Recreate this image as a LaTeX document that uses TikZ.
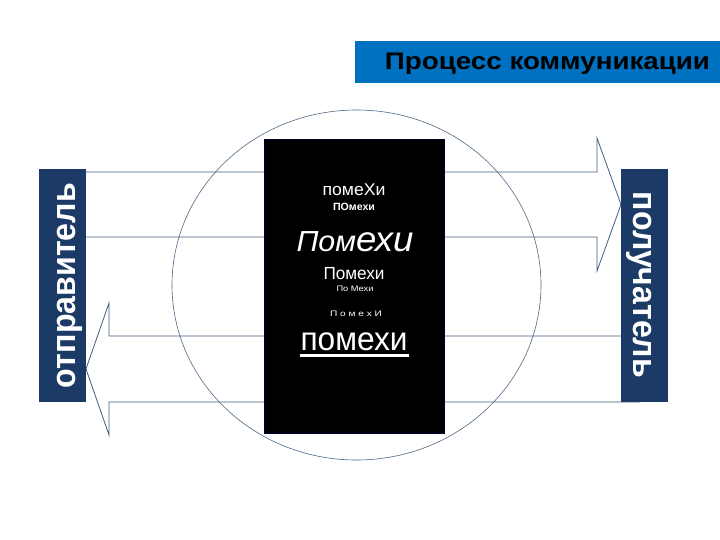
\documentclass[tikz,border=0pt]{standalone}
\usepackage{fontspec}
\setmainfont{Liberation Sans}
\usepackage{graphicx}
\definecolor{navy}{HTML}{1B3A66}
\definecolor{titleblue}{HTML}{0070C0}
\definecolor{edgeblue}{HTML}{3F5F80}
\definecolor{ringcol}{HTML}{4F6A88}
\tikzset{
  arrowshape/.style={draw=edgeblue, fill=white, line width=0.8pt, line join=miter},
  ring/.style={draw=ringcol, line width=0.6pt},
  partybox/.style={fill=navy, draw=none, minimum width=47pt, minimum height=233pt, inner sep=0pt},
  partylabel/.style={text=white, font=\bfseries\fontsize{34}{34}\selectfont, inner sep=0pt, anchor=base},
  noisebox/.style={fill=black, draw=black!80!blue, minimum width=180pt, minimum height=294pt, inner sep=0pt},
  noisetext/.style={text=white, anchor=base, inner sep=0pt},
  titlebar/.style={fill=titleblue, draw=none, minimum width=365pt, minimum height=42pt, inner sep=0pt}
}
\begin{document}
\begin{tikzpicture}[x=1pt,y=-1pt]
\useasboundingbox (0,0) rectangle (720,540);
\fill[white] (0,0) rectangle (720,540);

% block arrows
\draw[arrowshape] (70,172) -- (597,172) -- (597,138) -- (621,204.5) -- (597,271) -- (597,237) -- (70,237) -- cycle;
\draw[arrowshape] (640,336) -- (109,336) -- (109,303) -- (86,369) -- (109,435) -- (109,402) -- (640,402) -- cycle;

% circle
\draw[ring] (356.5,285) ellipse [x radius=184.5, y radius=175];

% noise block
\node[noisebox] (noise) at (354,286) {};
\node[noisetext] (n1) at (354,196) {\resizebox{63pt}{\height}{\fontsize{17}{17}\selectfont помеХи}};
\node[noisetext] (n2) at (354,211) {\resizebox{42pt}{\height}{\bfseries\fontsize{10.5}{10.5}\selectfont ПОмехи}};
\node[noisetext] (n3) at (355,251.5) {\resizebox{117pt}{\height}{\itshape\fontsize{29}{29}\selectfont Пом{\fontsize{35}{35}\selectfont ехи}}};
\node[noisetext] (n4) at (354,279.3) {\resizebox{61pt}{\height}{\fontsize{17.5}{17.5}\selectfont Помехи}};
\node[noisetext] (n5) at (355,291.7) {\resizebox{37pt}{\height}{\fontsize{8}{8}\selectfont По Мехи}};
\node[noisetext] (n6) at (356,316) {\resizebox{52pt}{\height}{\fontsize{8}{8}\selectfont П о м е х И}};
\node[noisetext] (n7) at (354,350.7) {\resizebox{107pt}{\height}{\fontsize{33}{33}\selectfont помехи}};
\fill[white] (300,354) rectangle (409,356.5);

% parties
\node[partybox] (sender) at (62.5,285.5) {};
\node[partylabel, rotate=90] (senderlabel) at (75,285.5) {\resizebox{205pt}{\height}{отправитель}};
\node[partybox] (receiver) at (644.5,285.5) {};
\node[partylabel, rotate=-90] (receiverlabel) at (633,285) {\resizebox{186pt}{\height}{получатель}};

% title
\node[titlebar] (titlebar) at (537.5,62) {};
\node[anchor=base, inner sep=0pt, font=\bfseries\fontsize{24}{24}\selectfont] (title) at (547.5,70) {\resizebox{325pt}{\height}{Процесс коммуникации}};
\end{tikzpicture}
\end{document}
